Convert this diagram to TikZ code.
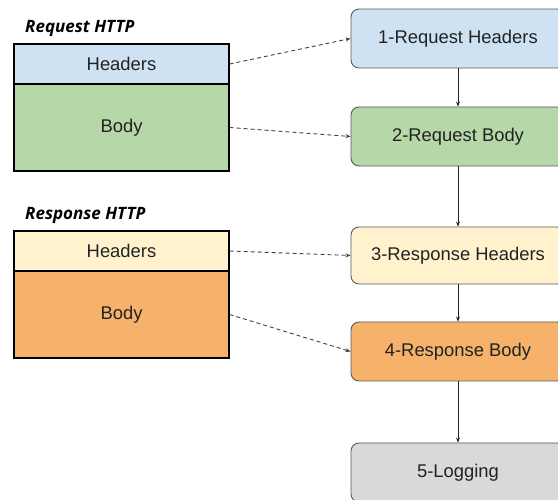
\documentclass[tikz,border=0pt]{standalone}
\usepackage{fontspec}
\setmainfont{Liberation Sans}
\newfontfamily\titlefont{Open Sans}
\usetikzlibrary{arrows.meta}
\definecolor{reqhead}{HTML}{CFE2F3}
\definecolor{reqbody}{HTML}{B6D7A8}
\definecolor{reshead}{HTML}{FFF2CC}
\definecolor{resbody}{HTML}{F6B26B}
\definecolor{logbox}{HTML}{D9D9D9}
\definecolor{edge}{HTML}{595959}
\definecolor{ink}{HTML}{222222}
\tikzset{
  stage/.style={draw=edge, line width=0.9pt, rounded corners=8pt, minimum width=214pt,
    minimum height=59pt, inner sep=0pt, font=\fontsize{18.4}{21}\selectfont, text=ink},
  part/.style={draw=black, line width=1.2pt, minimum width=215pt, inner sep=0pt,
    font=\fontsize{18.4}{21}\selectfont, text=ink},
  title/.style={anchor=west, inner sep=0pt, font=\titlefont\fontsize{17}{20}\selectfont\bfseries\itshape},
  flow/.style={-{Stealth[length=5pt,width=4pt]}, line width=0.8pt, draw=ink},
  feed/.style={-{Stealth[length=5pt,width=4pt]}, line width=0.9pt, draw=ink!85, dash pattern=on 4pt off 3pt}
}
\begin{document}
\begin{tikzpicture}[x=1pt,y=-1pt]
\useasboundingbox (0,0) rectangle (558,500);
\begin{scope}
\clip (0,0) rectangle (558,500);
% request message
\node[title] (reqt) at (25,28) {Request HTTP};
\node[part, fill=reqhead, minimum height=40pt] (reqh) at (121.5,64) {Headers};
\node[part, fill=reqbody, minimum height=87pt] (reqb) at (121.5,127.5) {Body};
% response message
\node[title] (rest) at (25,215) {Response HTTP};
\node[part, fill=reshead, minimum height=40pt] (resh) at (121.5,251) {Headers};
\node[part, fill=resbody, minimum height=87pt] (resb) at (121.5,314.5) {Body};
% processing stages
\node[stage, fill=reqhead] (s1) at (458,38.5) {1-Request Headers};
\node[stage, fill=reqbody] (s2) at (458,136.5) {2-Request Body};
\node[stage, fill=reshead, minimum height=57pt] (s3) at (458,255.5) {3-Response Headers};
\node[stage, fill=resbody] (s4) at (458,351.5) {4-Response Body};
\node[stage, fill=logbox] (s5) at (458,472.5) {5-Logging};
% stage order
\draw[flow] (s1) -- (s2);
\draw[flow] (s2) -- (s3);
\draw[flow] (s3) -- (s4);
\draw[flow] (s4) -- (s5);
% message parts feeding the stages
\draw[feed] (reqh.east) -- (s1.west);
\draw[feed] (reqb.east) -- (s2.west);
\draw[feed] (resh.east) -- (s3.west);
\draw[feed] (resb.east) -- (s4.west);
\end{scope}
\end{tikzpicture}
\end{document}
